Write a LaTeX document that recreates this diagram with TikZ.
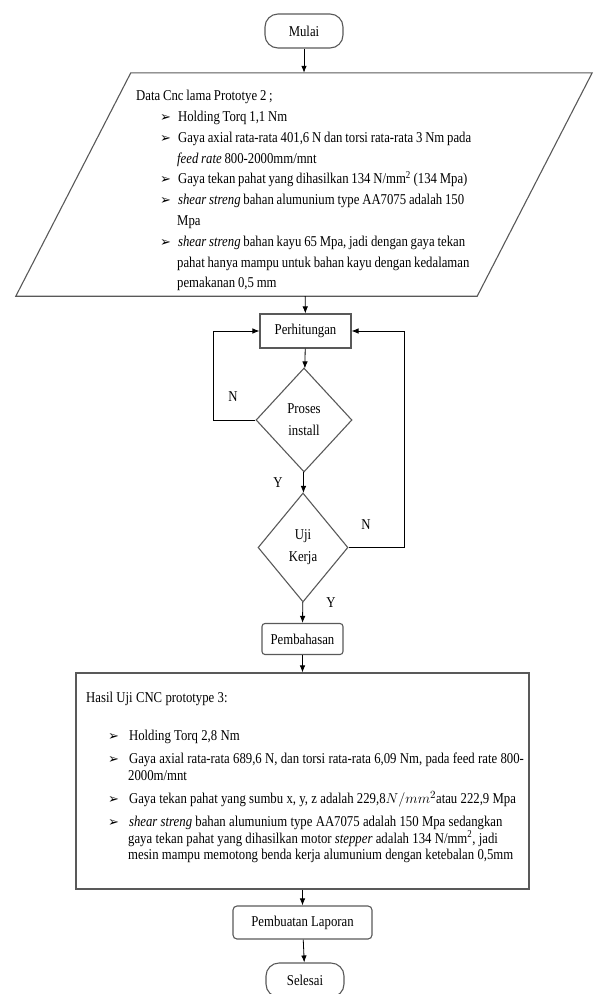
\documentclass[tikz,border=0pt]{standalone}
\usepackage{fontspec}
\usepackage{enumitem}
\usetikzlibrary{shapes.geometric,arrows.meta}
\setmainfont{Liberation Serif}[FakeStretch=0.85]
\newfontfamily\dejavu{DejaVu Sans}
\newcommand{\arw}{{\dejavu\fontsize{13}{13}\selectfont ➢}}

\begin{document}
\begin{tikzpicture}[x=1pt,y=-1pt,
    font=\fontsize{15}{20.8}\selectfont,
    shp/.style={draw=black!65,line width=1.1pt},
    term/.style={shp,rounded corners=13pt,minimum width=78pt,minimum height=34pt,inner sep=0pt},
    proc/.style={shp,minimum height=33pt,inner sep=0pt},
    dec/.style={shp,diamond,inner sep=0pt,align=center,font=\fontsize{15}{22}\selectfont},
    arr/.style={-{Latex[length=7pt,width=5.5pt]},line width=0.8pt},
    lbl/.style={inner sep=0pt}]
    \useasboundingbox (0,0) rectangle (594,994);

    % flow nodes
    \node[term] (mulai) at (304,31) {Mulai};
    \node[minimum width=461pt,minimum height=223pt,inner sep=0pt] (data) at (304,184.5) {};
    \draw[shp] ([xshift=57.5pt]data.north west) -- ([xshift=57.5pt]data.north east)
      -- ([xshift=-57.5pt]data.south east) -- ([xshift=-57.5pt]data.south west) -- cycle;
    \node[anchor=north west,text width=360pt,inner sep=0pt,align=left] (datatxt) at (136,90) {%
      \spaceskip=2.8pt plus 1pt minus 0.5pt
      \noindent Data Cnc lama Prototye 2 ;
      \begin{itemize}[label=\arw,leftmargin=41pt,labelwidth=10pt,labelsep=7pt,align=left,nosep,before=\raggedright]
        \item Holding Torq 1,1 Nm
        \item Gaya axial rata-rata 401,6 N dan torsi rata-rata 3 Nm pada\newline \textit{feed rate} 800-2000mm/mnt
        \item Gaya tekan pahat yang dihasilkan 134 N/mm\textsuperscript{2} (134 Mpa)
        \item \textit{shear streng} bahan alumunium type AA7075 adalah 150\newline Mpa
        \item \textit{shear streng} bahan kayu 65 Mpa, jadi dengan gaya tekan\newline pahat hanya mampu untuk bahan kayu dengan kedalaman\newline pemakanan 0,5 mm
      \end{itemize}};
    \node[proc,minimum width=91pt,minimum height=34pt] (hitung) at (305.5,331) {Perhitungan};
    \node[dec,minimum width=96pt,minimum height=104pt] (proses) at (304,420) {Proses\\install};
    \node[dec,minimum width=90pt,minimum height=109pt] (uji) at (303,547.5) {Uji\\Kerja};
    \node[proc,rounded corners=3pt,minimum width=81pt,minimum height=31pt] (bahas) at (302.5,639) {Pembahasan};
    \node[shp,minimum width=453pt,minimum height=216pt,inner sep=0pt] (hasil) at (302.5,781) {};
    \node[anchor=north west,text width=440pt,inner sep=0pt,align=left,
      font=\fontsize{15}{16.7}\selectfont] (hasiltxt) at (86,692) {%
      \spaceskip=3.3pt plus 1pt minus 0.5pt
      \noindent Hasil Uji CNC prototype 3:
      \begin{itemize}[label=\arw,leftmargin=42pt,labelwidth=10pt,labelsep=10pt,align=left,nosep,
        topsep=21.3pt,itemsep=6.3pt,before=\raggedright]
        \item Holding Torq 2,8 Nm
        \item Gaya axial rata-rata 689,6 N, dan torsi rata-rata 6,09 Nm, pada feed rate 800-\newline 2000m/mnt
        \item Gaya tekan pahat yang sumbu x, y, z adalah 229,8$N/mm^{2}$atau 222,9 Mpa
        \item \textit{shear streng} bahan alumunium type AA7075 adalah 150 Mpa sedangkan\newline gaya tekan pahat yang dihasilkan motor \textit{stepper} adalah 134 N/mm\textsuperscript{2}, jadi\newline mesin mampu memotong benda kerja alumunium dengan ketebalan 0,5mm
      \end{itemize}};
    \node[proc,rounded corners=4pt,minimum width=139pt] (laporan) at (302.5,922.5) {Pembuatan Laporan};
    \node[term] (selesai) at (305,980) {Selesai};

    % labels
    \node[lbl] (nkiri) at (233,397) {N};
    \node[lbl] (nkanan) at (366,525) {N};
    \node[lbl] (ya1) at (278,483) {Y};
    \node[lbl] (ya2) at (331,603) {Y};

    % connectors
    \draw[arr] (mulai) -- (data);
    \draw[arr] (data) -- (hitung);
    \draw[arr] (hitung) -- (proses);
    \draw[arr] (proses) -- (uji);
    \draw[arr] (uji) -- (bahas);
    \draw[arr] (bahas) -- (hasil);
    \draw[arr] (hasil) -- (laporan);
    \draw[arr] (laporan) -- (selesai);
    \draw[arr] (proses.west) -- ++(-42,0) |- (hitung.west);
    \draw[arr] (uji.east) -- ++(56,0) |- (hitung.east);
\end{tikzpicture}
\end{document}
